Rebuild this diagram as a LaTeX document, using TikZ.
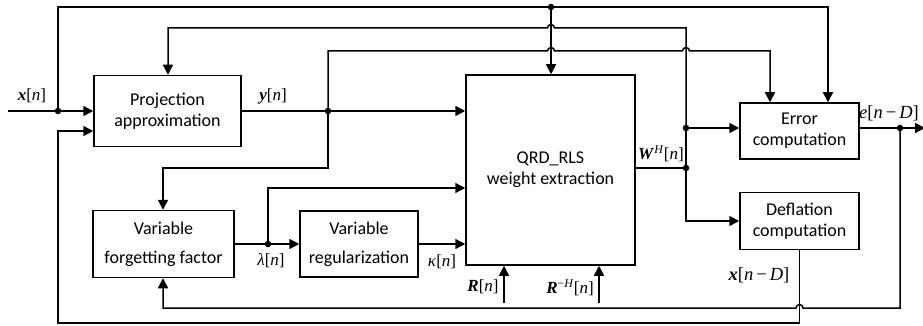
\documentclass[tikz,border=0pt]{standalone}
\usepackage{fontspec}
\setmainfont{Carlito}
\newfontfamily\tnr{Liberation Serif}
\usetikzlibrary{arrows.meta}
\tikzset{
  blk/.style={draw, line width=1.5pt, align=center, inner sep=0pt,
    font=\fontsize{18}{21}\selectfont},
  sig/.style={inner sep=0pt, font=\tnr\fontsize{17}{17}\selectfont},
  sigbig/.style={sig, font=\tnr\fontsize{18.5}{18.5}\selectfont},
  wire/.style={line width=1.5pt},
  arr/.style={wire, -{Triangle[length=10pt,width=10pt]}},
  dot/.style={circle, fill, inner sep=0pt, minimum size=6.5pt},
}
\newcommand{\hopr}{arc[start angle=180,end angle=0,radius=3.5pt]}
\newcommand{\hopl}{arc[start angle=0,end angle=180,radius=3.5pt]}
\begin{document}
\begin{tikzpicture}[x=1pt,y=-1pt]
    \useasboundingbox (0,0) rectangle (923,326);
    % blocks
    \node[blk, minimum width=147pt, minimum height=71pt] (proj) at (167.5,111) {Projection\\approximation};
    \node[blk, minimum width=169pt, minimum height=190pt] (qrd) at (550.5,170) {QRD\_RLS\\weight extraction};
    \node[blk, minimum width=119pt, minimum height=56pt] (err) at (799.5,131) {Error\\computation};
    \node[blk, minimum width=119pt, minimum height=57pt] (defl) at (799.5,221) {Deflation\\computation};
    \node[blk, minimum width=141pt, minimum height=67pt] (vff) at (163.5,244) {Variable\\[8pt]forgetting factor};
    \node[blk, minimum width=118pt, minimum height=66pt] (vreg) at (359,244) {Variable\\[8pt]regularization};
    % junctions and bends
    \coordinate (in) at (8,111);
    \coordinate (jx) at (58,111);
    \coordinate (jtop) at (551,7);
    \coordinate (t1) at (828,7);
    \coordinate (jy) at (328,111);
    \coordinate (ky) at (328,51);
    \coordinate (ke) at (770,51);
    \coordinate (hop1) at (551,28);
    \coordinate (hop2) at (551,51);
    \coordinate (hop3) at (686,51);
    \coordinate (kw) at (686,28);
    \coordinate (kp) at (168,28);
    \coordinate (kv) at (163,168);
    \coordinate (jl) at (268,244);
    \coordinate (kl) at (268,188);
    \coordinate (jw) at (686,168);
    \coordinate (jw2) at (686,128);
    \coordinate (je) at (900,128);
    \coordinate (out) at (925,128);
    \coordinate (ke2) at (900,308);
    \coordinate (hop4) at (799.5,308);
    \coordinate (kf) at (163,308);
    \coordinate (kd) at (799.5,323);
    \coordinate (kx) at (58,323);
    \coordinate (kx2) at (58,131);
    \coordinate (kr1) at (504,303);
    \coordinate (kr2) at (599,303);
    % input x[n]
    \draw[arr] (in) -- (in -| proj.west);
    \draw[arr] (jx) -- (jx |- t1) -- (t1) -- (t1 |- err.north);
    \draw[arr] (jtop) -- (jtop |- qrd.north);
    % y[n]
    \draw[arr] (proj.east |- jy) -- (jy -| qrd.west);
    \draw[arr] (jy) -- (ky) -- ([xshift=-3.5pt]hop2) \hopr -- ([xshift=-3.5pt]hop3) \hopr -- (ke) -- (ke |- err.north);
    \draw[arr] (jy) |- (kv) -- (kv |- vff.north);
    % lambda, kappa
    \draw[arr] (vff.east |- jl) -- (jl -| vreg.west);
    \draw[arr] (jl) -- (kl) -- (kl -| qrd.west);
    \draw[arr] (vreg.east) -- (vreg.east -| qrd.west);
    % R inputs
    \draw[arr] (kr1) -- (kr1 |- qrd.south);
    \draw[arr] (kr2) -- (kr2 |- qrd.south);
    % W^H[n]
    \draw[wire] (qrd.east |- jw) -- (jw);
    \draw[arr] (jw) -- (jw2) -- (jw2 -| err.west);
    \draw[arr] (jw2) -- (kw) -- ([xshift=3.5pt]hop1) \hopl -- (kp) -- (kp |- proj.north);
    \draw[arr] (jw) |- (defl.west);
    % e[n-D]
    \draw[arr] (err.east |- je) -- (out);
    \draw[arr] (je) -- (ke2) -- ([xshift=3.5pt]hop4) \hopl -- (kf) -- (kf |- vff.south);
    % x[n-D]
    \draw[arr] (defl.south) -- (kd) -- (kx) -- (kx2) -- (kx2 -| proj.west);
    % dots
    \foreach \j in {jx,jtop,jy,jl,jw,jw2,je}
        \node[dot] at (\j) {};
    % labels
    \node[sig] (lx) at (32,96) {\textbf{\textit{x}}[\textit{n}]};
    \node[sig] (ly) at (273,96) {\textbf{\textit{y}}[\textit{n}]};
    \node[sig] (lw) at (661,154) {\textbf{\textit{W}}\textsuperscript{\textit{H}}[\textit{n}]};
    \node[sigbig] (le) at (889,113) {\textit{e}[\textit{n}\,−\,\textit{D}]};
    \node[sig] (ll) at (271,261) {\textit{λ}[\textit{n}]};
    \node[sig] (lk) at (442,262) {\textit{κ}[\textit{n}]};
    \node[sig] (lr) at (483,287) {\textbf{\textit{R}}[\textit{n}]};
    \node[sig] (lrh) at (570,288) {\textbf{\textit{R}}\textsuperscript{−\textit{H}}[\textit{n}]};
    \node[sigbig] (lxd) at (759,275) {\textbf{\textit{x}}[\textit{n}\,−\,\textit{D}]};
\end{tikzpicture}
\end{document}
